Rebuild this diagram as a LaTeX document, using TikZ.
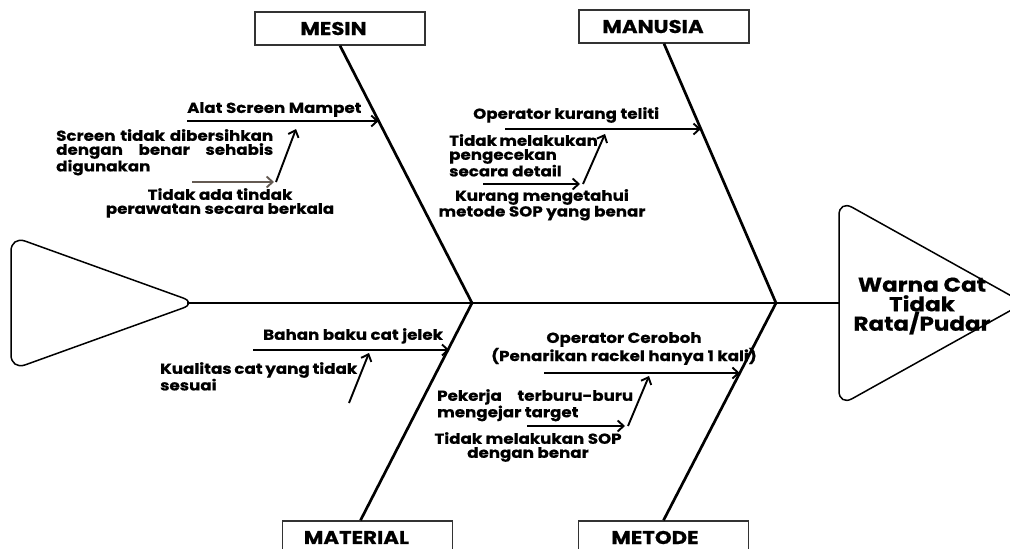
\documentclass[tikz,border=0pt]{standalone}
\usepackage{fontspec}
\setmainfont{Poppins}[FakeStretch=1.15,BoldFeatures={FakeBold=0.5}]
\usetikzlibrary{arrows.meta}

\definecolor{arrowgray}{RGB}{100,90,82}
\newcommand{\jline}[2]{\makebox[#1][s]{#2}}

\begin{document}
\begin{tikzpicture}
%Fishbone of faded paint
	[
	 x=1pt, y=-1pt,
	 %Styles
	 >={Straight Barb[length=6pt,width=11pt]},
	 category_node/.style={rectangle,draw=black!80,line width=1.3pt,minimum width=170pt,minimum height=33pt,inner sep=0pt,font=\bfseries\fontsize{18.5}{20}\selectfont},
	 cause_label/.style={inner sep=0pt,align=left,font=\bfseries\fontsize{14.5}{14}\selectfont},
	 cause_center/.style={cause_label,align=center},
	 effect_label/.style={inner sep=0pt,align=center,font=\bfseries\fontsize{20}{19.5}\selectfont},
	 bone_line/.style={line width=2.7pt},
	 cause_arrow/.style={->,line width=1.9pt},
	 fin_shape/.style={rounded corners=15pt,line width=1.5pt}
	]
	\useasboundingbox (0,0) rectangle (1010,549);

	%Category boxes
	\node (mesin) [category_node] at (340,28.5) {\hspace*{-13pt}MESIN};
	\node (manusia) [category_node] at (664,26.5) {\hspace*{-22pt}MANUSIA};
	\node (material) [category_node] at (367.5,537.5) {\hspace*{-22pt}MATERIAL};
	\node (metode) [category_node] at (663.5,537.5) {\hspace*{-17pt}METODE};

	%Spine, tail and head
	\coordinate (tailtip) at (187,303);
	\coordinate (j1) at (472,303);
	\coordinate (j2) at (776,303);
	\coordinate (headwest) at (839,303);
	\draw[fin_shape] (11,303) -- (11,236) -- (197,303) -- (11,370) -- cycle;
	\draw[fin_shape] (839,303) -- (839,200) -- (1024,303) -- (839,406) -- cycle;
	\node (effect) [effect_label] at (922,306) {Warna Cat\\Tidak\\Rata/Pudar};
	\draw[line width=1.6pt] (tailtip) -- (headwest);

	%Bones
	\draw[bone_line] (mesin.south) -- (j1);
	\draw[bone_line] (manusia.south) -- (j2);
	\draw[bone_line] ([xshift=-7pt]material.north) -- (j1);
	\draw[bone_line] (metode.north) -- (j2);

	%Causes
	\node (alat) [cause_label,anchor=north west] at (187,102) {Alat Screen Mampet};
	\node (screen) [cause_label,anchor=north west] at (56,129) {\jline{217pt}{Screen tidak dibersihkan}\\\jline{217pt}{dengan benar sehabis}\\digunakan};
	\node (perawatan) [cause_center,anchor=north] at (220,188) {Tidak ada tindak\\perawatan secara berkala};
	\node (teliti) [cause_label,anchor=north west] at (473,107) {Operator kurang teliti};
	\node (pengecekan) [cause_label,anchor=north west] at (449,134) {\jline{146pt}{Tidak melakukan}\\pengecekan\\secara detail};
	\node (sop) [cause_center,anchor=north] at (542,189) {Kurang mengetahui\\metode SOP yang benar};
	\node (bahan) [cause_label,anchor=north west] at (263,328) {Bahan baku cat jelek};
	\node (kualitas) [cause_label,anchor=north west] at (160,362) {\jline{197pt}{Kualitas cat yang tidak}\\sesuai};
	\node (ceroboh) [cause_center,anchor=north] at (624,332) {Operator Ceroboh\\(Penarikan rackel hanya 1 kali)};
	\node (pekerja) [cause_label,anchor=north west] at (437,389) {\jline{196pt}{Pekerja terburu-buru}\\mengejar target};
	\node (benar) [cause_center,anchor=north] at (528,432) {Tidak melakukan SOP\\dengan benar};

	%Arrow points
	\coordinate (a1) at (187,121);
	\coordinate (m1) at (intersection of mesin.south--j1 and 0,121--1000,121);
	\coordinate (a2) at (505,129);
	\coordinate (m2) at (intersection of manusia.south--j2 and 0,129--1000,129);
	\coordinate (a3) at (253,350);
	\coordinate (m3) at (intersection of material.north--j1 and 0,350--1000,350);
	\coordinate (a4) at (544,373);
	\coordinate (m4) at (intersection of metode.north--j2 and 0,373--1000,373);
	\coordinate (s1) at (192,182);
	\coordinate (k1) at (274,182);
	\coordinate (t1) at (296,129);
	\coordinate (s2) at (483,184);
	\coordinate (k2) at (580,184);
	\coordinate (t2) at (605,134);
	\coordinate (k3) at (349,403);
	\coordinate (t3) at (369,353);
	\coordinate (s4) at (527,426);
	\coordinate (k4) at (625,426);
	\coordinate (t4) at (649,376);

	%Edges
	\draw[cause_arrow] (a1) -- (m1);
	\draw[cause_arrow] (a2) -- (m2);
	\draw[cause_arrow] (a3) -- (m3);
	\draw[cause_arrow] (a4) -- (m4);
	\draw[cause_arrow,arrowgray] (s1) -- (k1);
	\draw[cause_arrow] ([xshift=2pt]k1) -- (t1);
	\draw[cause_arrow] (s2) -- (k2);
	\draw[cause_arrow] ([xshift=3pt]k2) -- (t2);
	\draw[cause_arrow] (k3) -- (t3);
	\draw[cause_arrow] (s4) -- (k4);
	\draw[cause_arrow] ([xshift=3pt]k4) -- (t4);
\end{tikzpicture}
\end{document}
